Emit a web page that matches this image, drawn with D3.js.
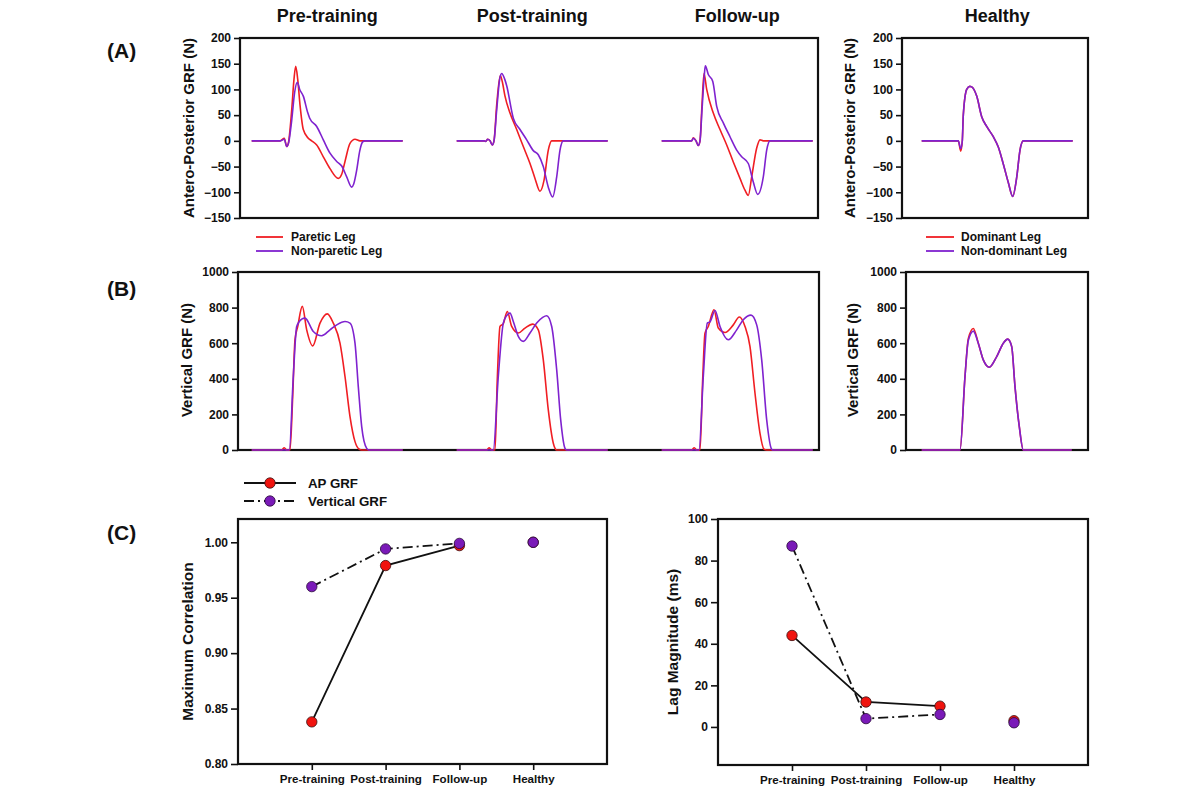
<!DOCTYPE html>
<html><head><meta charset="utf-8">
<script src="https://cdn.jsdelivr.net/npm/d3@7"></script>
<style>
body{margin:0;background:#fff}
text{font-family:"Liberation Sans",Arial,sans-serif;font-weight:bold;fill:#111}
</style>
</head><body><svg id="c" width="1200" height="800"></svg>
<script>
// ---------------- DATA ----------------
// Panel titles / phases
const phases = ["Pre-training", "Post-training", "Follow-up"];
const healthyTitle = "Healthy";
// local time (samples) within each stride, value in N
// (A) Antero-posterior GRF
const apPreParetic = [[0,0],[28.3,0],[32.6,5],[35,-11],[36.6,-5],[40,60],[42.3,120],[44,145],[46,120],[48.3,70],[51.6,22],[56.6,5],[60,0],[65,-8],[71.6,-31],[78.3,-54],[86.6,-73],[90,-65],[93.3,-40],[98.3,-5],[103.3,3],[108.3,0],[151,0]];
const apPreNonParetic = [[0,0],[28.3,0],[32.6,3],[35,-11],[37,-3],[40,40],[43,95],[45.6,114],[48,100],[51.6,87],[56,55],[58,44],[65,28],[71.6,2],[78.3,-24],[85,-40],[90,-49],[95,-70],[100,-90],[102,-84],[105,-57],[108,-20],[111,-2],[113.3,0],[151,0]];
const apPostParetic = [[0,0],[27,0],[29,-1],[31,3],[33.3,0],[35.6,-8],[37.3,0],[40,70],[43.6,127],[45.6,115],[48.3,87],[53.3,54],[60,22],[66.6,-11],[73.3,-44],[78.3,-73],[83.3,-98],[87.3,-77],[91.6,-18],[95,0],[151,0]];
const apPostNonParetic = [[0,0],[27,0],[29,-1],[31,3],[33.3,0],[35.6,-8],[37.3,0],[40,60],[43,120],[45,131],[48,120],[50,107],[56.6,44],[63.3,22],[70,2],[76.6,-19],[81.6,-27],[86.6,-50],[91.6,-90],[96,-109],[100,-70],[103.3,-18],[106.6,0],[151,0]];
const apFollowParetic = [[0,0],[30,0],[31.6,6],[34.3,0],[36.6,-9],[38.3,0],[40.3,70],[42.3,131],[45,100],[51.6,54],[58.3,22],[65,-8],[71.6,-41],[78.3,-73],[83.3,-96],[86.6,-106],[90,-70],[95,-14],[98.3,2],[101.6,0],[151,0]];
const apFollowNonParetic = [[0,0],[30,0],[31.6,5],[34.3,0],[36.6,-9],[38.3,0],[40.3,60],[42.5,125],[43.6,146],[46.6,129],[51,116],[55,67],[61.6,35],[68.3,8],[75,-18],[80,-31],[86.6,-44],[91.6,-80],[96,-104],[101.6,-70],[105,-18],[108.3,0],[151,0]];
const apHealthyDominant = [[0,0],[36.6,0],[39,-20],[40.6,0],[41.6,50],[45,100],[48,106],[50,105],[55,87],[60,47],[65,28],[71.6,8],[76.6,-12],[81.6,-45],[86.6,-81],[91,-108],[95,-71],[98.3,-18],[101.6,0],[151,0]];
const apHealthyNonDominant = [[0,0],[36.6,0],[39,-15],[40.6,0],[41.6,50],[45,100],[48,106],[50,105],[55,87],[60,47],[65,28],[71.6,8],[76.6,-12],[81.6,-45],[86.6,-81],[91,-108],[95,-71],[98.3,-18],[101.6,0],[151,0]];
// (B) Vertical GRF
const vPreParetic = [[0,0],[30,0],[32.6,13],[35,0],[38.3,0],[41,300],[43.3,620],[46,694],[50.6,807],[55,675],[61,585],[68.3,713],[75.6,765],[81.6,713],[88.3,600],[93.3,413],[98.3,188],[103.3,47],[107.6,4],[110,0],[151,0]];
const vPreNonParetic = [[0,0],[37.6,0],[41.6,413],[45,694],[50,735],[53.3,741],[61.6,666],[70,642],[78.3,675],[85,703],[93.3,722],[98.3,713],[103.3,600],[106.6,356],[110,131],[115,9],[117.3,0],[151,0]];
const vPostParetic = [[0,0],[30,0],[32.3,13],[35,0],[38.3,0],[40.6,400],[43.3,694],[46.6,710],[50.6,778],[55,694],[61.6,657],[68.3,685],[76,707],[81.6,675],[86.6,506],[91.6,225],[96.6,38],[100,0],[151,0]];
const vPostNonParetic = [[0,0],[36.6,0],[41.6,413],[46.6,713],[50,755],[53.3,769],[56.6,722],[61.6,638],[66.6,610],[73.3,657],[80,713],[86,745],[90,754],[95,694],[100,450],[104,169],[108.3,9],[110,0],[151,0]];
const vFollowParetic = [[0,0],[30,0],[32.6,13],[35,0],[38.3,0],[41,400],[43.3,656],[46.6,694],[52.3,788],[56.6,685],[63.3,660],[71.6,703],[77.6,747],[83.3,694],[88.3,581],[93.3,319],[98.3,94],[102.3,4],[105,0],[151,0]];
const vFollowNonParetic = [[0,0],[37.3,0],[41.6,413],[45.6,713],[48.3,720],[53.3,784],[58.3,694],[66.6,619],[75,675],[81.6,732],[89.3,758],[95,703],[100,506],[105,169],[110,4],[111.6,0],[151,0]];
const vHealthyDominant = [[0,0],[38.3,0],[43.3,413],[46.6,625],[51.6,683],[56.6,600],[61.6,506],[67.6,465],[75,525],[81.6,600],[86,623],[90,581],[93.3,356],[97.6,131],[101.6,0],[150,0]];
const vHealthyNonDominant = [[0,0],[38.3,0],[43.3,413],[46.6,615],[51.6,668],[56.6,600],[61.6,506],[67.6,465],[75,525],[81.6,600],[86,623],[90,581],[93.3,356],[97.6,131],[101.6,0],[150,0]];
// stride start (samples) of each phase in the combined panel
const cycleOffsets = [0, 205, 410];
const apTicks = [-150,-100,-50,0,50,100,150,200];
const vTicks = [0,200,400,600,800,1000];
// (C)
const groups = ["Pre-training", "Post-training", "Follow-up", "Healthy"];
const corrAP = [0.838, 0.979, 0.997, 1.000];
const corrVert = [0.960, 0.994, 0.999, 1.000];
const lagAP = [44, 12, 10, 3];
const lagVert = [87, 4, 6, 2];
const corrTicks = [0.80, 0.85, 0.90, 0.95, 1.00];
const lagTicks = [0, 20, 40, 60, 80, 100];

// ---------------- STYLE ----------------
const RED = "#f01e23", PURPLE = "#7f22cf";
const MRED = "#f0140f", MPURPLE = "#7a1ab8";
const FONT = '"Liberation Sans",Arial,sans-serif';
const svg = d3.select("#c");

function frameAxis(box, yScale, ticks, fmt, tickSize=6) {
  const g = svg.append("g");
  const ax = g.append("g").attr("transform", `translate(${box.x0},0)`)
    .call(d3.axisLeft(yScale).tickValues(ticks).tickSize(tickSize).tickPadding(3).tickFormat(fmt));
  ax.select(".domain").remove();
  ax.selectAll(".tick line").attr("stroke", "#111").attr("stroke-width", 1.6);
  ax.selectAll(".tick text").style("font-size", "12px").style("font-weight", "bold").attr("fill", "#111")
    .style("font-family", FONT);
  return g;
}
function drawFrame(box) {
  svg.append("rect").attr("x", box.x0).attr("y", box.y0)
    .attr("width", box.x1 - box.x0).attr("height", box.y1 - box.y0)
    .attr("fill", "none").attr("stroke", "#111").attr("stroke-width", 2.2);
}
function yLabel(text, cx, cy, size=15) {
  svg.append("text").attr("transform", `translate(${cx},${cy}) rotate(-90)`)
    .attr("text-anchor", "middle").attr("dominant-baseline", "central")
    .style("font-size", size + "px").text(text);
}
const lineGen = (x, y, off) => d3.line().x(d => x(d[0] + off)).y(d => y(d[1])).curve(d3.curveMonotoneX);
function curve(data, x, y, off, color) {
  svg.append("path").datum(data).attr("d", lineGen(x, y, off)(data))
    .attr("fill", "none").attr("stroke", color).attr("stroke-width", 1.6).attr("stroke-linejoin", "round");
}

// ---------------- (A) ----------------
const boxA = {x0: 240, x1: 818, y0: 38, y1: 218};
const boxAH = {x0: 902, x1: 1088, y0: 38, y1: 218};
const xA = d3.scaleLinear().domain([-11.7, 566.3]).range([boxA.x0, boxA.x1]);
const xAH = d3.scaleLinear().domain([-19.7, 166.3]).range([boxAH.x0, boxAH.x1]);
const yA = d3.scaleLinear().domain([-150, 200]).range([boxA.y1, boxA.y0]);
frameAxis(boxA, yA, apTicks, d3.format("d"));
frameAxis(boxAH, yA, apTicks, d3.format("d"));
const apParetic = [apPreParetic, apPostParetic, apFollowParetic];
const apNon = [apPreNonParetic, apPostNonParetic, apFollowNonParetic];
phases.forEach((p, i) => { curve(apParetic[i], xA, yA, cycleOffsets[i], RED); curve(apNon[i], xA, yA, cycleOffsets[i], PURPLE); });
curve(apHealthyDominant, xAH, yA, 0, RED);
curve(apHealthyNonDominant, xAH, yA, 0, PURPLE);
drawFrame(boxA); drawFrame(boxAH);

// ---------------- (B) ----------------
const boxB = {x0: 238, x1: 819, y0: 272, y1: 450};
const boxBH = {x0: 906, x1: 1088, y0: 272, y1: 450};
const xB = d3.scaleLinear().domain([-13.7, 567.3]).range([boxB.x0, boxB.x1]);
const xBH = d3.scaleLinear().domain([-15.7, 166.3]).range([boxBH.x0, boxBH.x1]);
const yB = d3.scaleLinear().domain([0, 1000]).range([boxB.y1, boxB.y0]);
frameAxis(boxB, yB, vTicks, d3.format("d"));
frameAxis(boxBH, yB, vTicks, d3.format("d"));
drawFrame(boxB); drawFrame(boxBH);
const vParetic = [vPreParetic, vPostParetic, vFollowParetic];
const vNon = [vPreNonParetic, vPostNonParetic, vFollowNonParetic];
phases.forEach((p, i) => { curve(vParetic[i], xB, yB, cycleOffsets[i], RED); curve(vNon[i], xB, yB, cycleOffsets[i], PURPLE); });
curve(vHealthyDominant, xBH, yB, 0, RED);
curve(vHealthyNonDominant, xBH, yB, 0, PURPLE);

// titles
phases.forEach((p, i) => {
  svg.append("text").attr("x", xA(cycleOffsets[i] + 75.5)).attr("y", 22).attr("text-anchor", "middle")
    .style("font-size", "18px").text(p);
});
svg.append("text").attr("x", xAH(75.5)).attr("y", 22).attr("text-anchor", "middle").style("font-size", "18px").text(healthyTitle);

// panel letters
[["(A)", 50], ["(B)", 288], ["(C)", 532]].forEach(([t, y]) =>
  svg.append("text").attr("x", 107).attr("y", y).attr("dominant-baseline", "central").style("font-size", "21px").text(t));

yLabel("Antero-Posterior GRF (N)", 188, 128);
yLabel("Antero-Posterior GRF (N)", 849, 128);
yLabel("Vertical GRF (N)", 186, 360);
yLabel("Vertical GRF (N)", 852, 360);

// legends A
function legLine(x1, x2, y, color, label, tx) {
  svg.append("line").attr("x1", x1).attr("x2", x2).attr("y1", y).attr("y2", y).attr("stroke", color).attr("stroke-width", 1.8);
  svg.append("text").attr("x", tx).attr("y", y).attr("dominant-baseline", "central").style("font-size", "12px").text(label);
}
legLine(256, 283, 237, RED, "Paretic Leg", 291);
legLine(256, 283, 251, PURPLE, "Non-paretic Leg", 291);
legLine(926, 954, 237, RED, "Dominant Leg", 961);
legLine(926, 954, 251, PURPLE, "Non-dominant Leg", 961);

// ---------------- (C) ----------------
const DASHDOT = "10,4,2,4";
function cPanel(box, yDom, ticks, fmt, apVals, vVals, label, labelX) {
  const x = d3.scalePoint().domain(groups).range([box.x0, box.x1]).padding(1);
  const y = d3.scaleLinear().domain(yDom).range([box.y1, box.y0]);
  frameAxis(box, y, ticks, fmt, 7);
  const bx = svg.append("g").attr("transform", `translate(0,${box.y1})`)
    .call(d3.axisBottom(x).tickSize(6).tickPadding(5));
  bx.select(".domain").remove();
  bx.selectAll(".tick line").attr("stroke", "#111").attr("stroke-width", 1.6);
  bx.selectAll(".tick text").style("font-size", "11.6px").style("font-weight", "bold").attr("fill", "#111")
    .style("font-family", FONT);
  const pts = (vals) => groups.slice(0, 3).map((g, i) => [x(g), y(vals[i])]);
  svg.append("path").attr("d", d3.line()(pts(apVals))).attr("fill", "none").attr("stroke", "#111").attr("stroke-width", 1.8);
  svg.append("path").attr("d", d3.line()(pts(vVals))).attr("fill", "none").attr("stroke", "#111").attr("stroke-width", 1.8).attr("stroke-dasharray", DASHDOT);
  groups.forEach((g, i) => svg.append("circle").attr("cx", x(g)).attr("cy", y(apVals[i])).attr("r", 5.2).attr("fill", MRED).attr("stroke", "#3a1010").attr("stroke-width", 0.8));
  groups.forEach((g, i) => svg.append("circle").attr("cx", x(g)).attr("cy", y(vVals[i])).attr("r", 5.2).attr("fill", MPURPLE).attr("stroke", "#2a0a3a").attr("stroke-width", 0.8));
  drawFrame(box);
  yLabel(label, labelX, (box.y0 + box.y1) / 2, 15.5);
}
cPanel({x0: 238, x1: 607, y0: 519, y1: 764}, [0.8, 1.021], corrTicks, d3.format(".2f"), corrAP, corrVert, "Maximum Correlation", 187);
cPanel({x0: 718, x1: 1088, y0: 519, y1: 765}, [-18.3, 100], lagTicks, d3.format("d"), lagAP, lagVert, "Lag Magnitude (ms)", 672);

// legend C
svg.append("line").attr("x1", 244).attr("x2", 296).attr("y1", 483).attr("y2", 483).attr("stroke", "#111").attr("stroke-width", 1.8);
svg.append("circle").attr("cx", 270).attr("cy", 483).attr("r", 5.2).attr("fill", MRED).attr("stroke", "#3a1010").attr("stroke-width", 0.8);
svg.append("text").attr("x", 308).attr("y", 483).attr("dominant-baseline", "central").style("font-size", "13.3px").text("AP GRF");
svg.append("line").attr("x1", 244).attr("x2", 296).attr("y1", 501).attr("y2", 501).attr("stroke", "#111").attr("stroke-width", 1.8).attr("stroke-dasharray", DASHDOT);
svg.append("circle").attr("cx", 270).attr("cy", 501).attr("r", 5.2).attr("fill", MPURPLE).attr("stroke", "#2a0a3a").attr("stroke-width", 0.8);
svg.append("text").attr("x", 308).attr("y", 501).attr("dominant-baseline", "central").style("font-size", "13.3px").text("Vertical GRF");
</script></body></html>
